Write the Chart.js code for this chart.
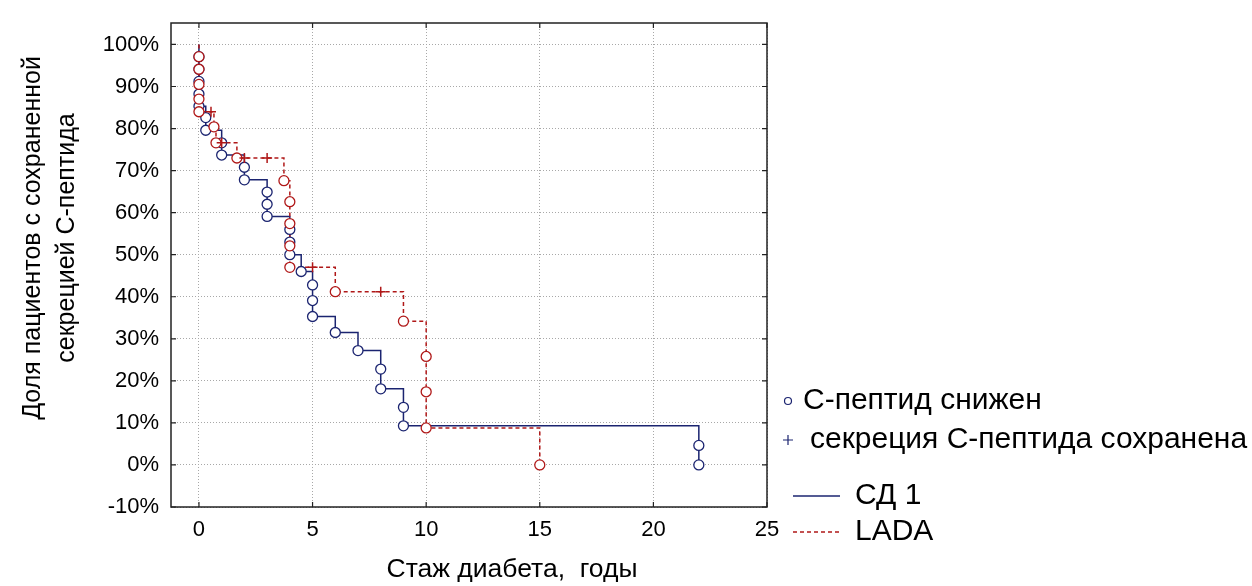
<!DOCTYPE html>
<html>
<head>
<meta charset="utf-8">
<script src="https://cdn.jsdelivr.net/npm/chart.js"></script>
<style>
    html, body { margin: 0; padding: 0; background: #fff; }
    #km { display: block; }
</style>
</head>
<body>
<canvas id="km" width="1252" height="586"></canvas>
<script>
    // СД 1: event times and survival levels (circles)
    const sd1Time = [0, 0, 0, 0, 0, 0.3, 0.3, 1, 1, 2, 2, 3, 3, 3, 4, 4, 4, 4.5, 5, 5, 5, 6, 7, 8, 8, 9, 9, 22, 22];
    const sd1Surv = [97.1, 94.1, 91.2, 88.2, 85.3, 82.6, 79.6, 76.6, 73.7, 70.8, 67.8, 64.9, 62.0, 59.1, 56.0, 53.0, 50.0, 46.0, 42.8, 39.1, 35.3, 31.5, 27.2, 22.8, 18.1, 13.7, 9.3, 4.65, 0];

    // LADA: event times and survival levels (circles)
    const ladaTime = [0, 0, 0, 0, 0, 0.66, 0.75, 1.67, 3.74, 4, 4, 4, 4, 6, 9, 10, 10, 10, 15];
    const ladaSurv = [97.1, 94.1, 90.5, 87.0, 84.0, 80.4, 76.6, 73.0, 67.6, 62.6, 57.4, 52.1, 47.0, 41.2, 34.2, 25.8, 17.4, 8.8, 0];

    // LADA: censored observations (+)
    const ladaCensTime = [0.53, 1.0, 2.0, 3.0, 5.0, 8.0];
    const ladaCensSurv = [84.0, 76.6, 73.0, 73.0, 47.0, 41.2];

    const xTitle = 'Стаж диабета,  годы';
    const yTitle = ['Доля пациентов с сохраненной', 'секрецией С-пептида'];
    const legendMarks = ['С-пептид снижен', 'секреция С-пептида сохранена'];
    const legendLines = ['СД 1', 'LADA'];

    const BLUE = '#1b2470';
    const RED = '#b01818';
    const FONT = "'Liberation Sans', Arial, sans-serif";

    function pts(xs, ys) { return xs.map((x, i) => ({ x: x, y: ys[i] })); }
    function stepLine(xs, ys) {
        const out = [{ x: 0, y: 100 }];
        xs.forEach((x, i) => out.push({ x: x, y: ys[i] }));
        return out;
    }

    // frame, inward ticks, titles and legend
    const decor = {
        id: 'decor',
        afterDraw(chart) {
            const { ctx, chartArea: a, scales: { x, y } } = chart;
            ctx.save();
            ctx.strokeStyle = '#222';
            ctx.lineWidth = 1.5;
            ctx.strokeRect(a.left, a.top, a.right - a.left, a.bottom - a.top);
            ctx.lineWidth = 1.2;
            ctx.beginPath();
            x.ticks.forEach(t => {
                const px = x.getPixelForValue(t.value);
                ctx.moveTo(px, a.bottom); ctx.lineTo(px, a.bottom - 5);
                ctx.moveTo(px, a.top); ctx.lineTo(px, a.top + 5);
            });
            y.ticks.forEach(t => {
                const py = y.getPixelForValue(t.value);
                ctx.moveTo(a.left, py); ctx.lineTo(a.left + 5, py);
                ctx.moveTo(a.right, py); ctx.lineTo(a.right - 5, py);
            });
            ctx.stroke();

            // axis titles
            ctx.fillStyle = '#000';
            ctx.font = '26.5px ' + FONT;
            ctx.textAlign = 'center';
            ctx.textBaseline = 'middle';
            ctx.fillText(xTitle, 512, 570);
            ctx.save();
            ctx.translate(33, 238);
            ctx.rotate(-Math.PI / 2);
            ctx.font = '25px ' + FONT;
            ctx.fillText(yTitle[0], 0, 0);
            ctx.fillText(yTitle[1], 0, 34);
            ctx.restore();

            // legend
            ctx.textAlign = 'left';
            ctx.font = '30px ' + FONT;
            ctx.lineWidth = 1.2;
            ctx.strokeStyle = BLUE;
            ctx.fillStyle = '#fff';
            ctx.beginPath();
            ctx.arc(788, 401, 3.5, 0, Math.PI * 2);
            ctx.fill(); ctx.stroke();
            ctx.beginPath();
            ctx.moveTo(783, 440); ctx.lineTo(793, 440);
            ctx.moveTo(788, 435); ctx.lineTo(788, 445);
            ctx.stroke();
            ctx.fillStyle = '#000';
            ctx.fillText(legendMarks[0], 803, 401);
            ctx.fillText(legendMarks[1], 810, 440);

            ctx.lineWidth = 1.5;
            ctx.strokeStyle = BLUE;
            ctx.beginPath();
            ctx.moveTo(793, 496); ctx.lineTo(840, 496);
            ctx.stroke();
            ctx.strokeStyle = RED;
            ctx.setLineDash([4, 3]);
            ctx.beginPath();
            ctx.moveTo(793, 532); ctx.lineTo(840, 532);
            ctx.stroke();
            ctx.setLineDash([]);
            ctx.fillText(legendLines[0], 855, 496);
            ctx.fillText(legendLines[1], 855, 532);
            ctx.restore();
        }
    };

    const tickFont = { family: FONT, size: 22, lineHeight: 1 };

    new Chart(document.getElementById('km'), {
        type: 'scatter',
        data: {
            datasets: [
                { label: 'LADA +', data: pts(ladaCensTime, ladaCensSurv), pointStyle: 'cross', pointRadius: 5, borderColor: RED, borderWidth: 1.5, showLine: false },
                { label: 'LADA o', data: pts(ladaTime, ladaSurv), pointStyle: 'circle', pointRadius: 5, backgroundColor: '#fff', borderColor: RED, borderWidth: 1.3, showLine: false },
                { label: 'СД 1 o', data: pts(sd1Time, sd1Surv), pointStyle: 'circle', pointRadius: 5, backgroundColor: '#fff', borderColor: BLUE, borderWidth: 1.3, showLine: false },
                { label: 'LADA', data: stepLine(ladaTime, ladaSurv), showLine: true, stepped: 'before', pointRadius: 0, borderColor: RED, borderWidth: 1.5, borderDash: [4, 3], fill: false },
                { label: 'СД 1', data: stepLine(sd1Time, sd1Surv), showLine: true, stepped: 'before', pointRadius: 0, borderColor: BLUE, borderWidth: 1.5, fill: false }
            ]
        },
        options: {
            responsive: false,
            animation: false,
            layout: { padding: { left: 0, right: 485, top: 12, bottom: 0 } },
            plugins: { legend: { display: false }, tooltip: { enabled: false } },
            scales: {
                x: {
                    type: 'linear', min: -1.23, max: 25,
                    ticks: { stepSize: 5, includeBounds: false, padding: 12, color: '#000', font: tickFont },
                    grid: { color: '#a8a8a8', lineWidth: 1, drawTicks: false },
                    border: { display: false, dash: [1, 2] },
                    afterFit: s => { s.height = 79; }
                },
                y: {
                    type: 'linear', min: -10, max: 105.1,
                    ticks: { stepSize: 10, includeBounds: false, padding: 12, color: '#000', font: tickFont, callback: v => v + '%' },
                    grid: { color: '#a8a8a8', lineWidth: 1, drawTicks: false },
                    border: { display: false, dash: [1, 2] },
                    afterFit: s => { s.width = 171; }
                }
            }
        },
        plugins: [decor]
    });
</script>
</body>
</html>
